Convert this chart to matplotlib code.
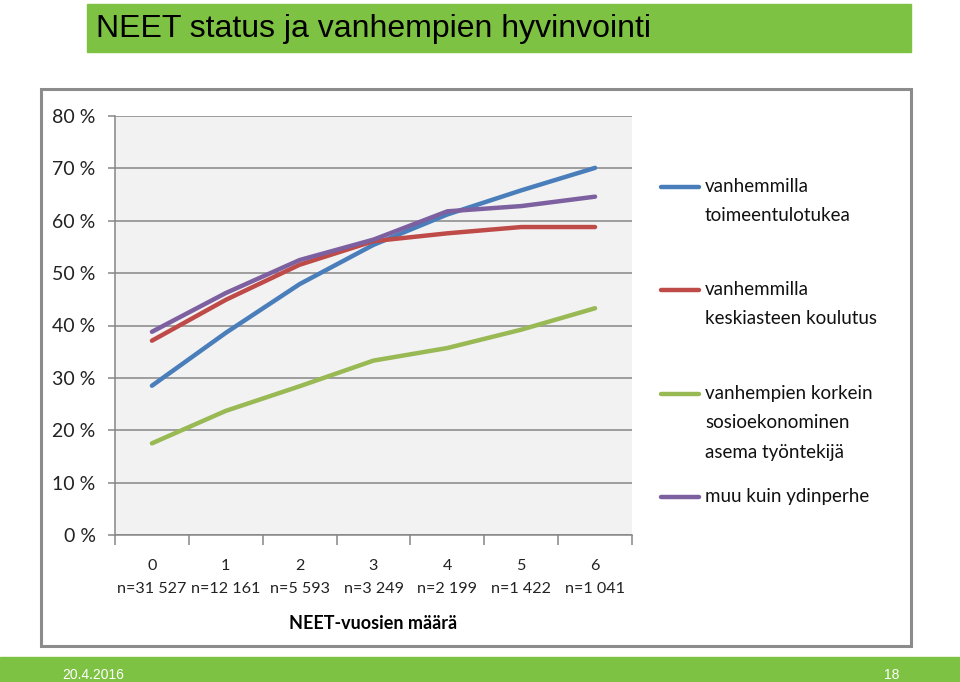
import matplotlib.pyplot as plt
from matplotlib.patches import Rectangle
from matplotlib.lines import Line2D

# NEET years (x) and group sizes
years = ["0", "1", "2", "3", "4", "5", "6"]
counts = ["n=31 527", "n=12 161", "n=5 593", "n=3 249", "n=2 199", "n=1 422", "n=1 041"]

# shares (%)
toimeentulotuki = [28.5, 38.6, 47.9, 55.4, 61.2, 65.8, 70.1]
keskiaste = [37.1, 44.9, 51.6, 56.1, 57.6, 58.8, 58.8]
tyontekija = [17.5, 23.7, 28.4, 33.3, 35.7, 39.2, 43.3]
ei_ydinperhe = [38.8, 46.2, 52.5, 56.4, 61.8, 62.8, 64.6]

labels = ["vanhemmilla\ntoimeentulotukea",
          "vanhemmilla\nkeskiasteen koulutus",
          "vanhempien korkein\nsosioekonominen\nasema työntekijä",
          "muu kuin ydinperhe"]
colors = ["#4A7EBB", "#BE4B48", "#98B954", "#7D60A0"]

W, H = 960, 682
green = "#7DC242"
body_font = ["Lato", "DejaVu Sans"]
title_font = ["Liberation Sans Narrow", "Liberation Sans", "DejaVu Sans"]


def fx(px):
    return px / W


def fy(py):
    return 1 - py / H


fig = plt.figure(figsize=(W / 100, H / 100), dpi=100)

# title bar
fig.patches.append(Rectangle((fx(87), fy(52)), fx(911) - fx(87), fy(4) - fy(52),
                             transform=fig.transFigure, color=green, zorder=-2))
fig.text(fx(96), fy(29), "NEET status ja vanhempien hyvinvointi", family=title_font,
         fontsize=23, va="center", ha="left", color="black")

# footer bar
fig.patches.append(Rectangle((0, 0), 1, fy(657), transform=fig.transFigure,
                             color=green, zorder=-2))
fig.text(fx(62), fy(675), "20.4.2016", family=title_font, fontsize=10,
         color="white", va="center")
fig.text(fx(899), fy(675), "18", family=title_font, fontsize=10,
         color="white", va="center", ha="right")

# chart frame
fig.patches.append(Rectangle((fx(41), fy(646)), fx(911) - fx(41), fy(89) - fy(646),
                             transform=fig.transFigure, facecolor="white",
                             edgecolor="#8C8C8C", lw=2.2, zorder=-1))

ax = fig.add_axes([fx(115), fy(535), fx(632) - fx(115), fy(116) - fy(535)])
ax.set_zorder(2)
ax.set_facecolor("#F2F2F2")

series = [toimeentulotuki, keskiaste, tyontekija, ei_ydinperhe]
lines = []
for vals, c in zip(series, colors):
    ln, = ax.plot(range(len(years)), vals, color=c, lw=3.2, solid_capstyle="round")
    lines.append(ln)

ax.set_xlim(-0.5, 6.5)
ax.set_ylim(0, 80)
ax.set_yticks(range(0, 81, 10))
ax.set_yticklabels([f"{v} %" for v in range(0, 81, 10)], family=body_font,
                   fontsize=14, color="#222222")
ax.grid(axis="y", color="#868686", lw=1.1)
ax.set_axisbelow(True)

ax.set_xticks(range(len(years)))
ax.set_xticklabels([f"{y}\n{n}" for y, n in zip(years, counts)], family=body_font,
                   fontsize=11.6, color="#222222", linespacing=1.82)
ax.set_xticks([i - 0.5 for i in range(len(years) + 1)], minor=True)
ax.tick_params(axis="x", which="major", length=0, pad=17)
ax.tick_params(axis="x", which="minor", length=7, color="#868686", width=1.1)
ax.tick_params(axis="y", length=5, color="#868686", width=1.1, pad=9)

for s in ["top", "right"]:
    ax.spines[s].set_visible(False)
for s in ["left", "bottom"]:
    ax.spines[s].set_color("#868686")
    ax.spines[s].set_linewidth(1.1)

ax.set_xlabel("NEET-vuosien määrä", family=body_font, fontsize=13,
              fontweight="bold", labelpad=14)

# legend, drawn by hand so the line sits on the first text row
legend_y = [187, 290, 394, 497]
for ln, lab, ly in zip(lines, labels, legend_y):
    fig.add_artist(Line2D([fx(661), fx(699)], [fy(ly), fy(ly)], color=ln.get_color(),
                          lw=3.2, solid_capstyle="round", transform=fig.transFigure))
    fig.text(fx(705), fy(ly - 9), lab, family=body_font, fontsize=13.5,
             va="top", ha="left", color="#111111", linespacing=1.88)

fig.savefig("out.png", dpi=100)
